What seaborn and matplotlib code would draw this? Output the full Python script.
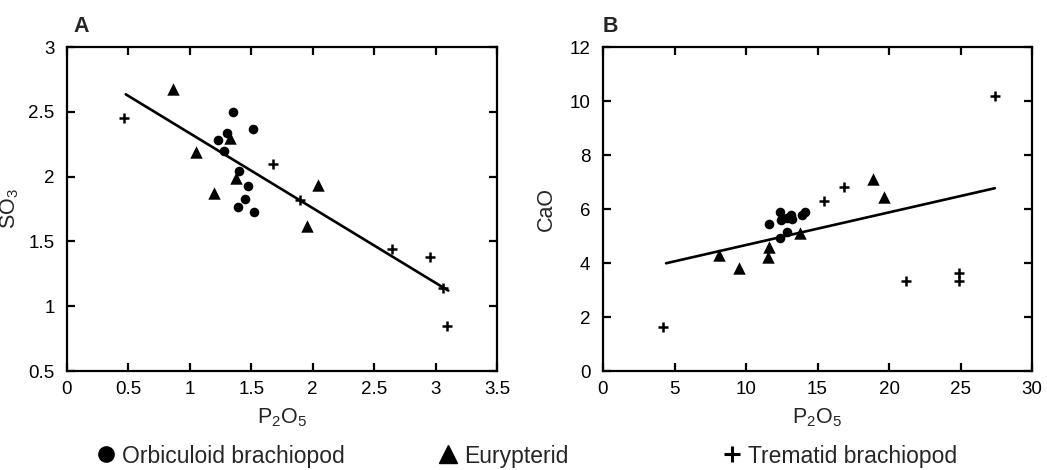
import numpy as np
import pandas as pd
import matplotlib
matplotlib.use("Agg")
import matplotlib.pyplot as plt
from matplotlib.lines import Line2D
import seaborn as sns

# ---------------- data ----------------
# Panel A: SO3 vs P2O5
a_orb_x = [1.35, 1.51, 1.30, 1.23, 1.275, 1.40, 1.475, 1.445, 1.39, 1.52]
a_orb_y = [2.50, 2.37, 2.34, 2.28, 2.20, 2.04, 1.93, 1.825, 1.765, 1.725]
a_eur_x = [0.865, 1.327, 1.053, 1.376, 1.199, 2.046, 1.956]
a_eur_y = [2.674, 2.30, 2.192, 1.987, 1.876, 1.935, 1.621]
a_tre_x = [0.464, 1.674, 1.897, 2.643, 2.955, 3.058, 3.096]
a_tre_y = [2.45, 2.097, 1.819, 1.439, 1.382, 1.143, 0.847]
a_fit_x = [0.478, 3.104]
a_fit_y = [2.635, 1.12]

# Panel B: CaO vs P2O5
b_orb_x = [11.58, 12.40, 12.45, 12.84, 13.15, 13.24, 13.89, 14.14, 12.84, 12.36]
b_orb_y = [5.45, 5.89, 5.58, 5.65, 5.78, 5.62, 5.78, 5.89, 5.13, 4.91]
b_eur_x = [8.08, 9.52, 11.58, 11.52, 13.76, 18.90, 19.67]
b_eur_y = [4.30, 3.81, 4.58, 4.23, 5.12, 7.10, 6.45]
b_tre_x = [4.22, 15.48, 16.83, 21.19, 24.92, 24.92, 27.41]
b_tre_y = [1.64, 6.31, 6.81, 3.33, 3.33, 3.64, 10.19]
b_fit_x = [4.41, 27.4]
b_fit_y = [3.99, 6.77]

groups = ["Orbiculoid brachiopod", "Eurypterid", "Trematid brachiopod"]
a_xticks = [0, 0.5, 1, 1.5, 2, 2.5, 3, 3.5]
a_yticks = [0.5, 1, 1.5, 2, 2.5, 3]
b_xticks = [0, 5, 10, 15, 20, 25, 30]
b_yticks = [0, 2, 4, 6, 8, 10, 12]

# ---------------- style ----------------
sns.set_style("ticks")
plt.rcParams["font.family"] = ["Liberation Sans", "DejaVu Sans"]
plt.rcParams["mathtext.default"] = "regular"
plt.rcParams["axes.linewidth"] = 1.6

W, H = 1047, 470
fig = plt.figure(figsize=(W / 100, H / 100), dpi=100)


def px_axes(left, top, right, bottom):
    return fig.add_axes([left / W, 1 - bottom / H, (right - left) / W, (bottom - top) / H])


axA = px_axes(67, 47, 497, 371)
axB = px_axes(603, 47, 1032, 371)


def draw(ax, orb, eur, tre, fit):
    sns.scatterplot(x=orb[0], y=orb[1], ax=ax, marker="o", s=48, color="black",
                    edgecolor="black", linewidth=0, zorder=3)
    sns.scatterplot(x=eur[0], y=eur[1], ax=ax, marker="^", s=80, color="black",
                    edgecolor="black", linewidth=0, zorder=3)
    sns.scatterplot(x=tre[0], y=tre[1], ax=ax, marker="+", s=45, color="black",
                    linewidth=1.8, zorder=3)
    sns.lineplot(x=fit[0], y=fit[1], ax=ax, color="black", linewidth=1.9, zorder=2)
    for s in ax.spines.values():
        s.set_visible(True)
        s.set_color("black")
        s.set_linewidth(1.6)
    ax.tick_params(direction="in", length=6, width=1.6, top=True, right=True,
                   labelsize=13.5, colors="black")
    ax.tick_params(axis="y", pad=9)
    ax.tick_params(axis="x", pad=7)


draw(axA, (a_orb_x, a_orb_y), (a_eur_x, a_eur_y), (a_tre_x, a_tre_y), (a_fit_x, a_fit_y))
draw(axB, (b_orb_x, b_orb_y), (b_eur_x, b_eur_y), (b_tre_x, b_tre_y), (b_fit_x, b_fit_y))

axA.set_xlim(0, 3.5)
axA.set_ylim(0.5, 3.0)
axA.set_xticks(a_xticks)
axA.set_xticklabels([f"{t:g}" for t in a_xticks])
axA.set_yticks(a_yticks)
axA.set_yticklabels([f"{t:g}" for t in a_yticks])

axB.set_xlim(0, 30)
axB.set_ylim(0, 12)
axB.set_xticks(b_xticks)
axB.set_yticks(b_yticks)

for ax, yl in ((axA, "SO$_3$"), (axB, "CaO")):
    ax.set_xlabel("P$_2$O$_5$", fontsize=15.5)
    ax.set_ylabel(yl, fontsize=15.5)
    ax.xaxis.set_label_coords(0.5, -0.11)
    ax.yaxis.set_label_coords(-0.108, 0.5)

axA.text(0.014, 1.045, "A", transform=axA.transAxes, fontsize=15.5, fontweight="bold",
         ha="left", va="baseline")
axB.text(0.0, 1.045, "B", transform=axB.transAxes, fontsize=15.5, fontweight="bold",
         ha="left", va="baseline")

# ---------------- legend ----------------
handles = [
    Line2D([], [], marker="o", linestyle="none", color="black", markersize=11),
    Line2D([], [], marker="^", linestyle="none", color="black", markersize=13),
    Line2D([], [], marker="+", linestyle="none", color="black", markersize=11,
           markeredgewidth=2.2),
]
anchors = [96, 438, 722]
for h, g, xa in zip(handles, groups, anchors):
    fig.legend(handles=[h], labels=[g], loc="center left",
               bbox_to_anchor=(xa / W, 1 - 456 / H), frameon=False, fontsize=16.5,
               handlelength=0.85, handletextpad=0.3, borderpad=0, borderaxespad=0)

fig.savefig("out.png", dpi=100, facecolor="white")
